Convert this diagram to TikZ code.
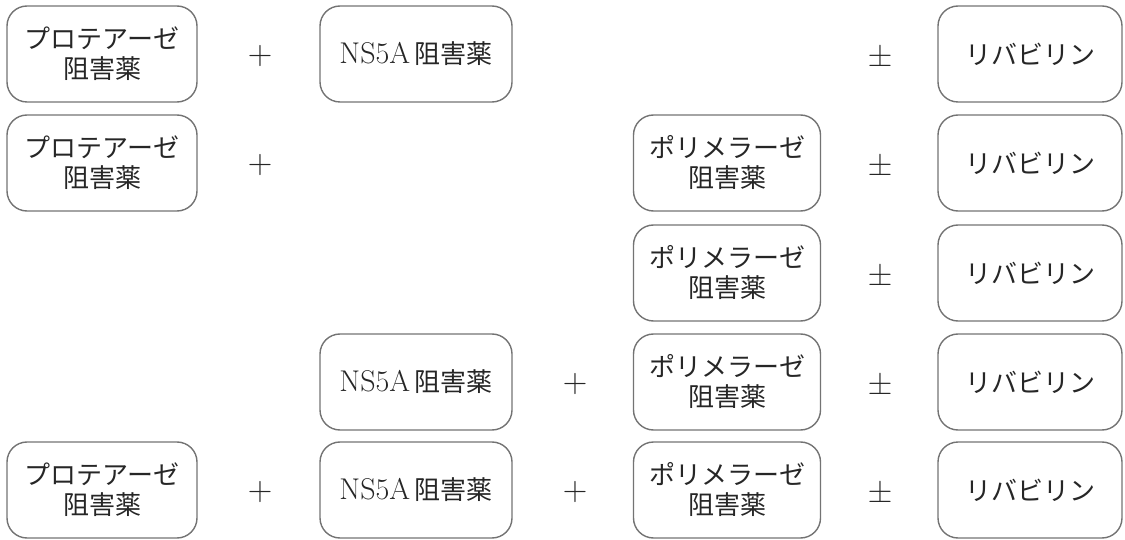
\documentclass[tikz,border=0pt]{standalone}
\usepackage{fontspec}
\newfontfamily\jp{Noto Sans CJK JP}
\begin{document}
\begin{tikzpicture}[x=1pt,y=-1pt,
  drug/.style={draw=black!55, line width=1.4pt, rounded corners=20pt, rectangle,
    minimum height=96pt, inner sep=0pt, align=center, text=black!85,
    font=\jp\fontsize{26}{30}\selectfont},
  colA/.style={drug, minimum width=190pt},
  colC/.style={drug, minimum width=192pt},
  colE/.style={drug, minimum width=187pt},
  colG/.style={drug, minimum width=184pt},
  op/.style={inner sep=0pt, text=black!85, font=\rmfamily\fontsize{34}{34}\selectfont}]
\useasboundingbox (0,0) rectangle (1125,540);
\newcommand{\prot}{プロテアーゼ\\阻害薬}
\newcommand{\nsa}{{\rmfamily\fontsize{30}{30}\selectfont NS5A}\,阻害薬}
\newcommand{\poly}{ポリメラーゼ\\阻害薬}
\newcommand{\riba}{リバビリン}
% Row 1
\node[colA] (a1) at (102,54) {\prot};
\node[op] (p1) at (260,56) {+};
\node[colC] (c1) at (416,54) {\nsa};
\node[op] (f1) at (880,56) {±};
\node[colG] (g1) at (1030,54) {\riba};
% Row 2
\node[colA] (a2) at (102,163) {\prot};
\node[op] (p2) at (260,165) {+};
\node[colE] (e2) at (727,163) {\poly};
\node[op] (f2) at (880,165) {±};
\node[colG] (g2) at (1030,163) {\riba};
% Row 3
\node[colE] (e3) at (727,273) {\poly};
\node[op] (f3) at (880,275) {±};
\node[colG] (g3) at (1030,273) {\riba};
% Row 4
\node[colC] (c4) at (416,382) {\nsa};
\node[op] (d4) at (575,384) {+};
\node[colE] (e4) at (727,382) {\poly};
\node[op] (f4) at (880,384) {±};
\node[colG] (g4) at (1030,382) {\riba};
% Row 5
\node[colA] (a5) at (102,490) {\prot};
\node[op] (p5) at (260,492) {+};
\node[colC] (c5) at (416,490) {\nsa};
\node[op] (d5) at (575,492) {+};
\node[colE] (e5) at (727,490) {\poly};
\node[op] (f5) at (880,492) {±};
\node[colG] (g5) at (1030,490) {\riba};
\end{tikzpicture}
\end{document}
